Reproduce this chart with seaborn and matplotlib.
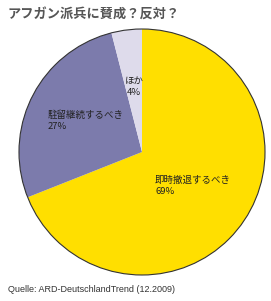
import matplotlib
matplotlib.use("Agg")
import matplotlib.pyplot as plt
import seaborn as sns
from matplotlib.patches import Circle

categories = ["即時撤退するべき", "駐留継続するべき", "ほか"]
values = [69, 27, 4]
colors = ["#FFDF00", "#7C7BAC", "#DEDBEB"]
title = "アフガン派兵に賛成？反対？"
source = "Quelle: ARD-DeutschlandTrend (12.2009)"

sns.set_theme(style="white")
plt.rcParams['font.family'] = ['Noto Sans CJK JP', 'DejaVu Sans']

W, H = 271, 301
fig = plt.figure(figsize=(W / 100, H / 100), dpi=100)
ax = fig.add_axes([0, 0, 1, 1])

cx, cy, r = 142, H - 152, 123
wedges, _ = ax.pie(values, colors=colors, startangle=90, counterclock=False,
                   center=(cx, cy), radius=r, frame=True,
                   wedgeprops=dict(linewidth=0))
ax.set_xlim(0, W)
ax.set_ylim(0, H)
ax.set_aspect("equal")
ax.axis("off")
ax.add_patch(Circle((cx, cy), r, fill=False, edgecolor="#333333", linewidth=0.8))

# labels
lab_pos = [(155, H - 176, "left"), (48, H - 110, "left"), (134, H - 77, "center")]
for (x, y, ha), cat, v in zip(lab_pos, categories, values):
    ax.text(x, y, f"{cat}\n{v}%", ha=ha, va="top", fontsize=6.8,
            color="#222222", linespacing=1.3)

fig.text(8 / W, 1 - 15 / H, title, ha="left", va="center", fontsize=9.5,
         fontweight="bold", color="#555555")
fig.text(8 / W, 1 - 290 / H, source, ha="left", va="center", fontsize=6.5,
         color="#333333", family=["Liberation Sans", "DejaVu Sans"])

fig.savefig("out.png", dpi=100)
